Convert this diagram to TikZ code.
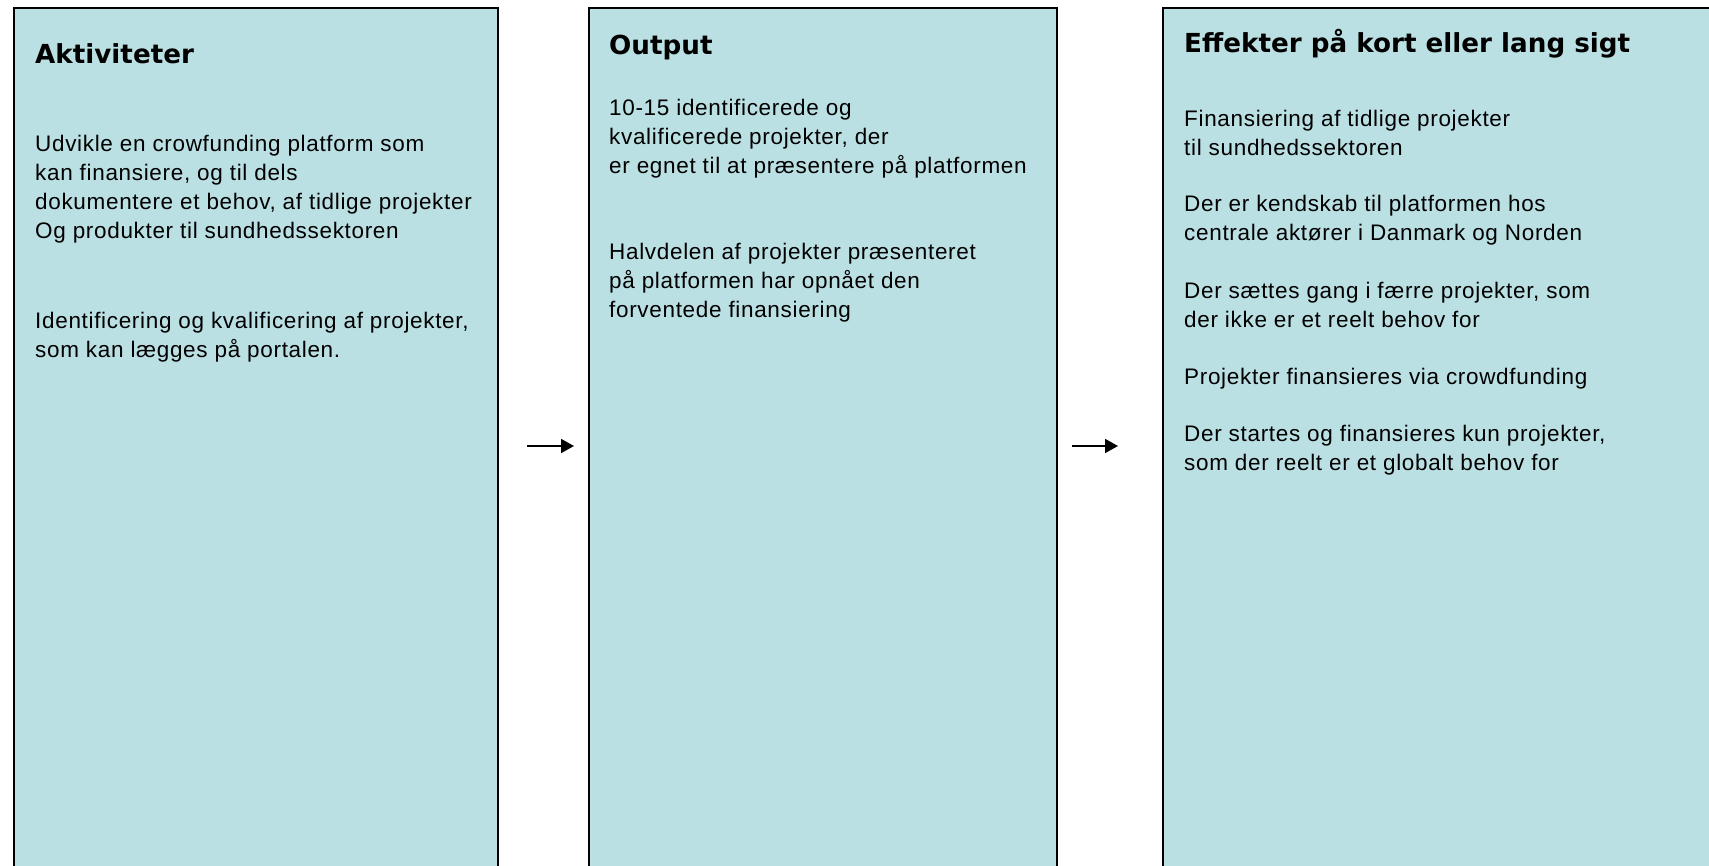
\documentclass[tikz,border=0pt]{standalone}
\usepackage{fontspec}
\usetikzlibrary{arrows.meta}
\newfontfamily\bodyfont[LetterSpace=3]{Liberation Sans}
\newfontfamily\headfont{DejaVu Sans}
\definecolor{boxfill}{RGB}{187,224,227}
\tikzset{
  panel/.style={draw=black, line width=1.6pt, fill=boxfill},
  headtxt/.style={anchor=base west, inner sep=0pt, font=\headfont\bfseries\fontsize{26.2}{30}\selectfont},
  bodytxt/.style={anchor=base west, inner sep=0pt, font=\bodyfont\fontsize{22.5}{29}\selectfont},
  flowarrow/.style={line width=1.8pt, -{Triangle[length=13pt,width=14pt]}}
}
\newcommand{\paralines}[1]{\begin{tabular}[t]{@{}l@{}}#1\end{tabular}}
\begin{document}
\begin{tikzpicture}[x=1pt,y=-1pt]
\useasboundingbox (0,0) rectangle (1709,866);
\clip (0,0) rectangle (1709,866);
\fill[white] (0,0) rectangle (1709,866);
% panels
\draw[panel] (14,8) rectangle (498,890);
\draw[panel] (589,8) rectangle (1057,890);
\draw[panel] (1163,8) rectangle (1730,890);
% titles
\node[headtxt] (t1) at (35,64) {Aktiviteter};
\node[headtxt] (t2) at (609,55) {Output};
\node[headtxt] (t3) at (1184,53) {Effekter på kort eller lang sigt};
% box 1 text
\node[bodytxt] (a1) at (35,152) {\paralines{Udvikle en crowfunding platform som\\kan finansiere, og til dels\\dokumentere et behov, af tidlige projekter\\Og produkter til sundhedssektoren}};
\node[bodytxt] (a2) at (35,329) {\paralines{Identificering og kvalificering af projekter,\\som kan lægges på portalen.}};
% box 2 text
\node[bodytxt] (o1) at (609,116) {\paralines{10-15 identificerede og\\kvalificerede projekter, der\\er egnet til at præsentere på platformen}};
\node[bodytxt] (o2) at (609,260) {\paralines{Halvdelen af projekter præsenteret\\på platformen har opnået den\\forventede finansiering}};
% box 3 text
\node[bodytxt] (e1) at (1184,127) {\paralines{Finansiering af tidlige projekter\\til sundhedssektoren}};
\node[bodytxt] (e2) at (1184,212) {\paralines{Der er kendskab til platformen hos\\centrale aktører i Danmark og Norden}};
\node[bodytxt] (e3) at (1184,299) {\paralines{Der sættes gang i færre projekter, som\\der ikke er et reelt behov for}};
\node[bodytxt] (e4) at (1184,385) {\paralines{Projekter finansieres via crowdfunding}};
\node[bodytxt] (e5) at (1184,442) {\paralines{Der startes og finansieres kun projekter,\\som der reelt er et globalt behov for}};
% arrows
\coordinate (ar1s) at (527,446);
\coordinate (ar1e) at (574,446);
\coordinate (ar2s) at (1072,446);
\coordinate (ar2e) at (1118,446);
\draw[flowarrow] (ar1s) -- (ar1e);
\draw[flowarrow] (ar2s) -- (ar2e);
\end{tikzpicture}
\end{document}
